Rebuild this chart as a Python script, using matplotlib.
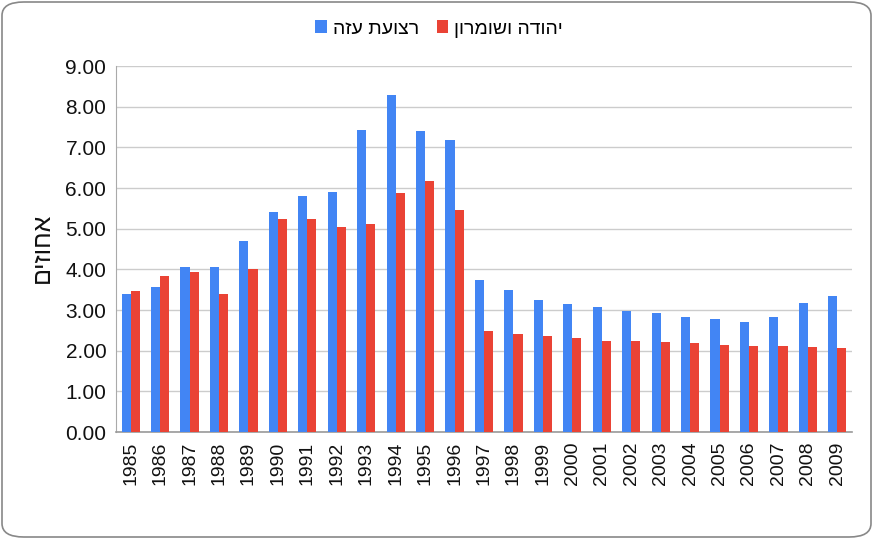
import matplotlib.pyplot as plt
import numpy as np
from matplotlib.patches import FancyBboxPatch

plt.rcParams['font.family'] = ['Liberation Sans', 'DejaVu Sans']

years = list(range(1985, 2010))
gaza = [3.39, 3.57, 4.06, 4.06, 4.70, 5.40, 5.80, 5.91, 7.43, 8.28, 7.40, 7.17,
        3.74, 3.49, 3.24, 3.15, 3.07, 2.98, 2.92, 2.84, 2.78, 2.71, 2.84, 3.16, 3.35]
judea = [3.47, 3.83, 3.94, 3.39, 4.01, 5.25, 5.25, 5.04, 5.11, 5.88, 6.17, 5.45,
         2.48, 2.42, 2.35, 2.30, 2.25, 2.23, 2.21, 2.19, 2.14, 2.11, 2.11, 2.09, 2.07]
gaza_name = "רצועת עזה"
judea_name = "יהודה ושומרון"
ylabel = "אחוזים"

def rtl(s):
    # matplotlib has no bidi, flip the order by hand
    return s[::-1]

fig = plt.figure(figsize=(8.73, 5.39), dpi=100)
ax = fig.add_axes([116/873, 1-432/539, (852-116)/873, (432-66)/539])

x = np.arange(len(years))
w = 0.31
ax.bar(x - w/2, gaza, w, color='#4285F4', label=rtl(gaza_name), zorder=3)
ax.bar(x + w/2, judea, w, color='#EA4335', label=rtl(judea_name), zorder=3)

ax.set_xlim(-0.5, len(years) - 0.5)
ax.set_ylim(0, 9)
ax.set_yticks(np.arange(0, 9.5, 1))
ax.set_yticklabels([f"{v:.2f}" for v in np.arange(0, 9.5, 1)], fontsize=15)
ax.set_xticks(x)
ax.set_xticklabels([str(y) for y in years], rotation=90, fontsize=14)
ax.tick_params(axis='both', length=0, pad=7, colors='#111111')
ax.grid(axis='y', color='#cccccc', linewidth=1, zorder=0)
for s in ['top', 'right']:
    ax.spines[s].set_visible(False)
ax.spines['left'].set_color('#aaaaaa')
ax.spines['bottom'].set_color('#999999')
ax.spines['bottom'].set_linewidth(1.2)

fig.text(42/873, 1-248/539, rtl(ylabel), rotation=90, fontsize=18,
         ha='center', va='center', color='#111111')

ax.legend(loc='center', bbox_to_anchor=(439/873, 1-29/539),
          bbox_transform=fig.transFigure, ncol=2, frameon=False, fontsize=14,
          handlelength=0.6, handleheight=0.6, handletextpad=0.3, columnspacing=0.9)

border = FancyBboxPatch((2/873, 2/539), 869/873, 535/539,
                        boxstyle="round,pad=0,rounding_size=0.025",
                        transform=fig.transFigure, fill=False,
                        edgecolor='#888888', linewidth=1.2)
fig.patches.append(border)

fig.savefig("out.png", dpi=100)
